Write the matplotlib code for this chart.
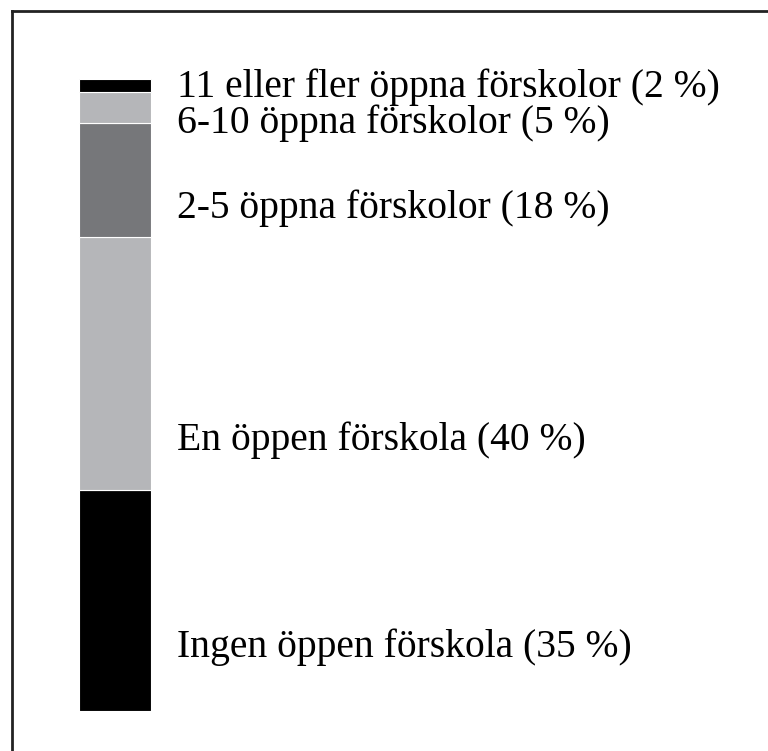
import matplotlib
matplotlib.use("Agg")
import matplotlib.pyplot as plt
from matplotlib.lines import Line2D

categories = ["Ingen öppen förskola", "En öppen förskola", "2-5 öppna förskolor",
              "6-10 öppna förskolor", "11 eller fler öppna förskolor"]
values = [35, 40, 18, 5, 2]
colors = ["#000000", "#b5b6b9", "#76777a", "#b5b6b9", "#000000"]
label_baseline = [8.5, 41.3, 78.0, 91.5, 97.15]

plt.rcParams['font.family'] = ['Liberation Serif', 'DejaVu Serif']

fig = plt.figure(figsize=(7.68, 7.51), dpi=100)
W, H = 768, 751
ax = fig.add_axes([0, 40 / H, 1, 632 / H])
ax.set_xlim(0, W)
ax.set_ylim(0, 100)
ax.axis('off')

bottom = 0
for cat, v, c in zip(categories, values, colors):
    ax.bar(114.5, v, width=72, bottom=bottom, color=c, edgecolor='white', linewidth=0.8)
    bottom += v

for cat, v, y in zip(categories, values, label_baseline):
    ax.text(177, y, f"{cat} ({v} %)", fontsize=28.5, va='baseline', ha='left', color='black')

# frame lines (top and left)
fig.add_artist(Line2D([12 / W, 12 / W], [0, 1 - 11 / H], color='#222222', lw=2, transform=fig.transFigure))
fig.add_artist(Line2D([12 / W, 1], [1 - 11 / H, 1 - 11 / H], color='#222222', lw=2, transform=fig.transFigure))

fig.savefig("out.png", dpi=100, facecolor='white')
